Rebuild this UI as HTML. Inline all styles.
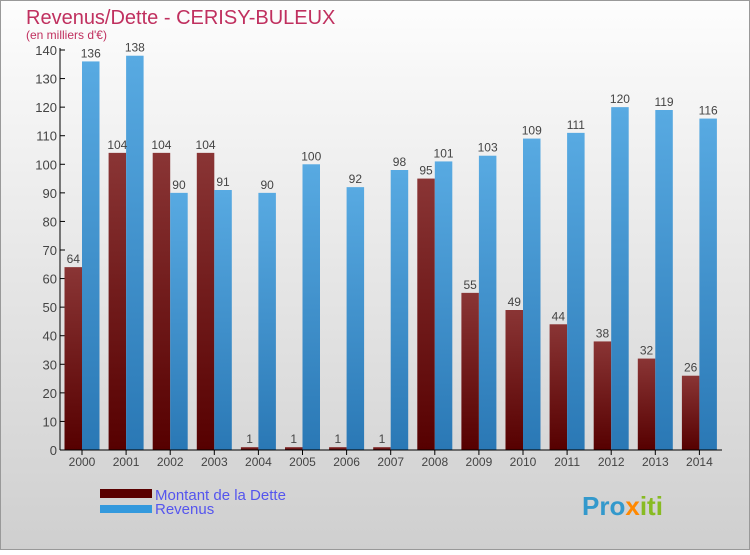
<!DOCTYPE html>
<html><head><meta charset="utf-8"><style>
body{margin:0;width:750px;height:550px;overflow:hidden;font-family:"Liberation Sans",sans-serif}
</style></head><body>
<svg width="750" height="550" id="c" xmlns="http://www.w3.org/2000/svg">
<defs>
<linearGradient id="bg" x1="0" y1="0" x2="0" y2="1"><stop offset="0" stop-color="#fdfdfd"/><stop offset="1" stop-color="#cfcfcf"/></linearGradient>
<linearGradient id="gd" x1="0" y1="0" x2="0" y2="1"><stop offset="0" stop-color="#8a3535"/><stop offset="1" stop-color="#560000"/></linearGradient>
<linearGradient id="gr" x1="0" y1="0" x2="0" y2="1"><stop offset="0" stop-color="#58aae2"/><stop offset="1" stop-color="#2a78b5"/></linearGradient>
</defs>
<rect x="0.5" y="0.5" width="749" height="549" fill="url(#bg)" stroke="#999"/>
<text x="26" y="24" font-size="20" fill="#c0305f">Revenus/Dette - CERISY-BULEUX</text>
<text x="26" y="39" font-size="12" fill="#c0305f">(en milliers d'€)</text>
<g id="plot"></g>
<rect x="100" y="489" width="52" height="9" fill="#5a0000"/>
<rect x="100" y="505" width="52" height="8" fill="#3399dd"/>
<text x="155" y="500" font-size="15" fill="#5555ee">Montant de la Dette</text>
<text x="155" y="514" font-size="15" fill="#5555ee">Revenus</text>
<text x="582" y="515" font-size="26" font-weight="bold" fill="#3399cc">Pro<tspan fill="#ff8800">x</tspan><tspan fill="#88bb22">iti</tspan></text>
</svg>
<script>
const years=["2000","2001","2002","2003","2004","2005","2006","2007","2008","2009","2010","2011","2012","2013","2014"];
const dette=[64,104,104,104,1,1,1,1,95,55,49,44,38,32,26];
const revenus=[136,138,90,91,90,100,92,98,101,103,109,111,120,119,116];
const yTicks=[0,10,20,30,40,50,60,70,80,90,100,110,120,130,140];
const NS="http://www.w3.org/2000/svg";
const g=document.getElementById('plot');
const x0=60,y0=450,yTop=50,yMax=140,step=44.1,firstC=82;
const Y=v=>y0-(v/yMax)*(y0-yTop);
const X=i=>firstC+i*step;
function mk(t,a){const e=document.createElementNS(NS,t);for(const k in a)e.setAttribute(k,a[k]);g.appendChild(e);return e;}
yTicks.forEach(v=>{
 const l=mk('line',{x1:x0,x2:x0+5,y1:Y(v),y2:Y(v),stroke:'#000'});
 
 
 const t=mk('text',{x:x0-3,y:Y(v)+5,'text-anchor':'end','font-size':13,fill:'#444'});
 t.textContent=v;
 
 
});
years.forEach((yr,i)=>{
 const c=X(i);
 const d=mk('rect',{x:c-17.5,y:Y(dette[i]),width:17.5,height:y0-Y(dette[i]),fill:'url(#gd)'});
 
 
 const r=mk('rect',{x:c,y:Y(revenus[i]),width:17.5,height:y0-Y(revenus[i]),fill:'url(#gr)'});
 
 
 const dl=mk('text',{x:c-8.75,y:Y(dette[i])-4,'text-anchor':'middle','font-size':12,fill:'#444'});
 dl.textContent=dette[i];
 
 
 const rl=mk('text',{x:c+8.75,y:Y(revenus[i])-4,'text-anchor':'middle','font-size':12,fill:'#444'});
 rl.textContent=revenus[i];
 
 
 const tk=mk('line',{x1:c,x2:c,y1:y0,y2:y0+5,stroke:'#000'});
 
 
 const xl=mk('text',{x:c,y:y0+16,'text-anchor':'middle','font-size':12,fill:'#444'});
 xl.textContent=yr;
 
 
});
const ax=mk('line',{x1:x0,x2:x0,y1:yTop-2,y2:y0,stroke:'#000'});


const bx=mk('line',{x1:x0,x2:722,y1:y0,y2:y0,stroke:'#000'});


</script>
</body></html>
